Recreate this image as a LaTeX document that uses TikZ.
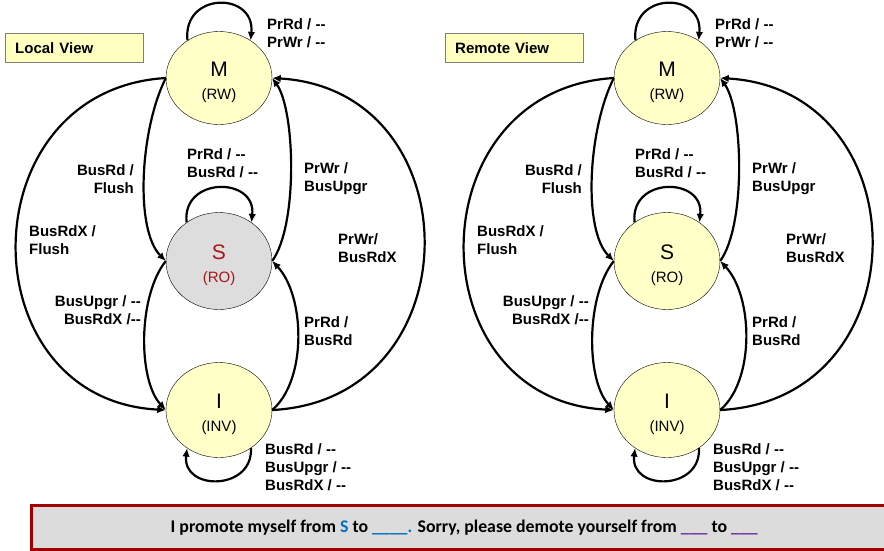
\documentclass[tikz,border=0pt]{standalone}
\usepackage{fontspec}
\setmainfont{Liberation Sans}
\newfontfamily\bannerfont{Carlito}
\usetikzlibrary{shapes.geometric,arrows.meta}

\definecolor{stateyellow}{RGB}{255,255,200}
\definecolor{sharedgray}{RGB}{221,221,221}
\definecolor{sharedred}{RGB}{170,20,20}
\definecolor{boxyellow}{RGB}{255,255,192}
\definecolor{bannerred}{RGB}{160,0,0}
\definecolor{bannergray}{RGB}{220,220,220}
\definecolor{blankblue}{RGB}{0,112,192}
\definecolor{blankpurple}{RGB}{112,48,160}

\newcommand{\dashdash}{-{}-}
\newcommand{\statetext}[2]{\raisebox{-3pt}[\height][\depth]{\fontsize{21}{21}\selectfont #1}\\
  \raisebox{-6pt}[\height][\depth]{\fontsize{15}{20}\selectfont (#2)}}

\tikzset{
  state/.style={ellipse,draw,thin,fill=stateyellow,minimum width=106pt,minimum height=93pt,
    inner sep=0pt,align=center,font=\fontsize{15}{20}\selectfont},
  trans/.style={line width=2.2pt,-{Latex[length=8.5pt,width=7.5pt]}},
  lbl/.style={font=\bfseries\fontsize{15}{18}\selectfont,inner sep=0pt},
  viewbox/.style={draw=gray,fill=boxyellow,anchor=north west,text width=118pt,align=left,
    inner xsep=10pt,minimum height=29pt,font=\bfseries\fontsize{15}{18}\selectfont},
}

\begin{document}
\begin{tikzpicture}[x=1pt,y=-1pt]
  \useasboundingbox (0,0) rectangle (884,550);

  \foreach \dx/\bx/\p/\vname/\sfill/\scol in {0/5/L/Local/sharedgray/sharedred,448/-3/R/Remote/stateyellow/black}{
    \begin{scope}[xshift=\dx]
      \node[viewbox] (\p view) at (\bx,33) {\vname\ View};

      \node[state] (\p M) at (219,78) {\statetext{M}{RW}};
      \node[state,fill=\sfill,text=\scol,minimum height=97pt] (\p S) at (219,261) {\statetext{S}{RO}};
      \node[state,minimum height=95pt] (\p I) at (219,410) {\statetext{I}{INV}};

      % transitions
      \draw[trans] (\p M.west) .. controls +(-26,52) and +(-31,-31) .. (\p S.west);
      \draw[trans] (\p S.east) .. controls +(26,-36) and +(23,32) .. (\p M.east);
      \draw[trans] (\p M.west) .. controls +(-199,12) and +(-199,-10) .. (\p I.west);
      \draw[trans] (\p I.east) .. controls +(202,-10) and +(202,12) .. (\p M.east);
      \draw[trans] (\p S.west) .. controls +(-28,35) and +(-28,-30) .. (\p I.west);
      \draw[trans] (\p I.east) .. controls +(35,-30) and +(33,35) .. (\p S.east);

      % self loops
      \draw[trans] (\p M.130) .. controls +(-5,-49) and +(5,-49) .. (\p M.50);
      \draw[trans] (\p S.130) .. controls +(-5,-46) and +(5,-46) .. (\p S.50);
      \draw[trans] (\p I.-50) .. controls +(2,43) and +(-5,43) .. (\p I.-130);

      \node[lbl,anchor=west,align=left] (\p mloop) at (267,33) {PrRd / \dashdash\\PrWr / \dashdash};
      \node[lbl,anchor=west,align=left] (\p sloop) at (187,163) {PrRd / \dashdash\\BusRd / \dashdash};
      \node[lbl,anchor=west,align=left] (\p iloop) at (265,467) {BusRd / \dashdash\\BusUpgr / \dashdash\\BusRdX / \dashdash};
      \node[lbl,anchor=east,align=right] (\p ms) at (134,179) {BusRd /\\Flush};
      \node[lbl,anchor=west,align=left] (\p sm) at (304,179) {PrWr /\\BusUpgr};
      \node[lbl,anchor=west,align=left] (\p mi) at (29,240) {BusRdX /\\Flush};
      \node[lbl,anchor=west,align=left] (\p im) at (338,248) {PrWr/\\BusRdX};
      \node[lbl,anchor=east,align=right] (\p si) at (141,310) {BusUpgr / \dashdash\\BusRdX /\dashdash};
      \node[lbl,anchor=west,align=left] (\p is) at (304,331) {PrRd /\\BusRd};
    \end{scope}
  }

  \node[draw=bannerred,fill=bannergray,line width=2.5pt,anchor=north west,minimum width=866pt,
    minimum height=44pt,inner sep=0pt,font=\bannerfont\bfseries\fontsize{17.8}{20}\selectfont] (banner) at (30,504)
    {I promote myself from \textcolor{blankblue}{S} to \textcolor{blankblue}{\_\_\_\_.} Sorry, please demote yourself from \textcolor{blankpurple}{\_\_\_} to \textcolor{blankpurple}{\_\_\_}};
\end{tikzpicture}
\end{document}
